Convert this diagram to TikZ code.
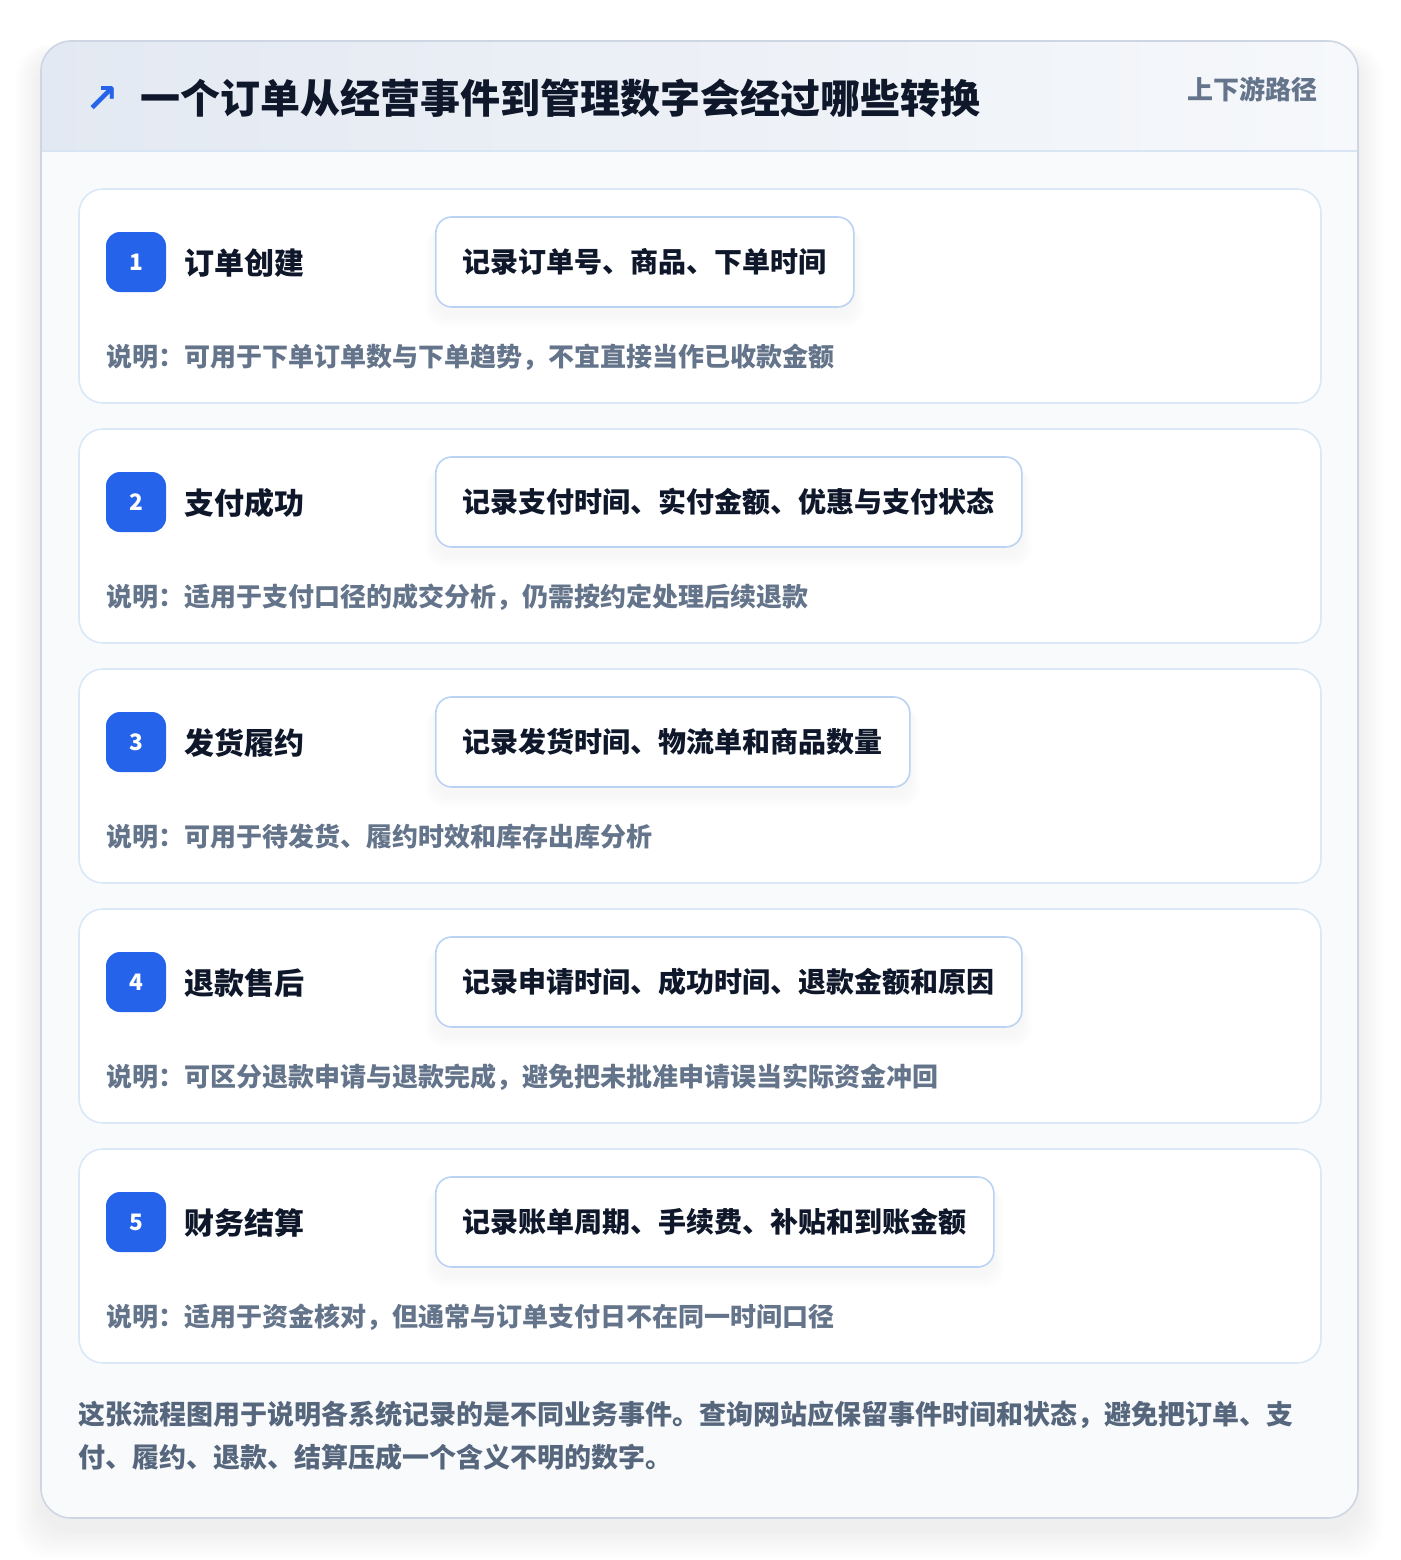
\documentclass[tikz,border=0pt]{standalone}
\usepackage{fontspec}
\setmainfont{Noto Sans CJK SC}
\newfontfamily\symfont{DejaVu Sans}
\definecolor{pagebg}{HTML}{FFFFFF}
\definecolor{hdrL}{HTML}{E3E9F2}
\definecolor{hdrR}{HTML}{F6F8FB}
\definecolor{bodybg}{HTML}{F8FAFC}
\definecolor{outerline}{HTML}{CDD6E2}
\definecolor{hdrline}{HTML}{D8E5F4}
\definecolor{cardline}{HTML}{DCE8F8}
\definecolor{boxline}{HTML}{BBD3F2}
\definecolor{badge}{HTML}{2563EB}
\definecolor{ink}{HTML}{0F172A}
\definecolor{sub}{HTML}{64748B}
\definecolor{foot}{HTML}{56667D}
\begin{document}
\begin{tikzpicture}[x=0.75pt,y=-0.75pt,
  cardbox/.style={draw=cardline, line width=1.2pt, fill=white, rounded corners=18pt},
  badgebox/.style={fill=badge, rounded corners=10.5pt, minimum width=45pt, minimum height=45pt, inner sep=0pt, text=white, font=\bfseries\fontsize{17}{17}\selectfont},
  steptitle/.style={anchor=west, inner sep=0pt, text=ink, font=\bfseries\fontsize{22.5}{22.5}\selectfont},
  recbox/.style={anchor=west, draw=boxline, line width=1.2pt, fill=white, rounded corners=12pt, minimum height=67.5pt, inner xsep=20.25pt, text=ink, font=\bfseries\fontsize{21}{21}\selectfont},
  notetext/.style={anchor=west, inner sep=0pt, text=sub, font=\bfseries\fontsize{19.5}{19.5}\selectfont},
  foottext/.style={anchor=west, inner sep=0pt, text=foot, font=\bfseries\fontsize{20.25}{20.25}\selectfont}
]
\useasboundingbox (0,0) rectangle (1400,1560);
\fill[pagebg] (0,0) rectangle (1400,1560);
% outer shadow
\foreach \i in {1,...,16}{
  \fill[black, opacity=0.0045, rounded corners=24pt] (41-1.6*\i,41-0.5*\i+12) rectangle (1358+1.6*\i,1518+1.8*\i+12);
}
% outer card
\fill[bodybg, rounded corners=22.5pt] (41,41) rectangle (1358,1518);
\begin{scope}
  \clip[rounded corners=22.5pt] (41,41) rectangle (1358,1518);
  \shade[left color=hdrL, right color=hdrR] (41,41) rectangle (1358,151);
  \draw[hdrline, line width=1.2pt] (41,151) -- (1358,151);
\end{scope}
\draw[outerline, line width=1.2pt, rounded corners=22.5pt] (41,41) rectangle (1358,1518);
% header
\node[inner sep=0pt, text=badge, font=\symfont\bfseries\fontsize{30}{30}\selectfont] (arrow) at (102,99) {↗};
\node[anchor=west, inner sep=0pt, text=ink, font=\bfseries\fontsize{30}{30}\selectfont] (title) at (140,98) {一个订单从经营事件到管理数字会经过哪些转换};
\node[anchor=east, inner sep=0pt, text=sub, font=\bfseries\fontsize{19.5}{19.5}\selectfont] (tag) at (1318,89) {上下游路径};
% cards
\foreach \n/\y/\t/\b/\s in {
  1/189/订单创建/记录订单号、商品、下单时间/说明：可用于下单订单数与下单趋势，不宜直接当作已收款金额,
  2/429/支付成功/记录支付时间、实付金额、优惠与支付状态/说明：适用于支付口径的成交分析，仍需按约定处理后续退款,
  3/669/发货履约/记录发货时间、物流单和商品数量/说明：可用于待发货、履约时效和库存出库分析,
  4/909/退款售后/记录申请时间、成功时间、退款金额和原因/说明：可区分退款申请与退款完成，避免把未批准申请误当实际资金冲回,
  5/1149/财务结算/记录账单周期、手续费、补贴和到账金额/说明：适用于资金核对，但通常与订单支付日不在同一时间口径}{
  \draw[cardbox] (79,\y) rectangle (1321,\y+214);
  \node[badgebox] (badge\n) at (136,\y+73) {\n};
  \node[steptitle] (title\n) at (184,\y+74) {\t};
  \node[recbox, opacity=0] (ghost\n) at (435,\y+73) {\b};
  \foreach \k in {1,...,8}{
    \fill[black, opacity=0.005, rounded corners=14pt] ([xshift=-\k*0.9pt, yshift=-4pt-\k*0.6pt]ghost\n.north west) rectangle ([xshift=\k*0.9pt, yshift=-6pt-\k*1.1pt]ghost\n.south east);
  }
  \node[recbox] (rec\n) at (435,\y+73) {\b};
  \node[notetext] (note\n) at (106,\y+168) {\s};
}
% footer
\node[foottext] (foot1) at (78,1415) {这张流程图用于说明各系统记录的是不同业务事件。查询网站应保留事件时间和状态，避免把订单、支};
\node[foottext] (foot2) at (78,1457) {付、履约、退款、结算压成一个含义不明的数字。};
\end{tikzpicture}
\end{document}
